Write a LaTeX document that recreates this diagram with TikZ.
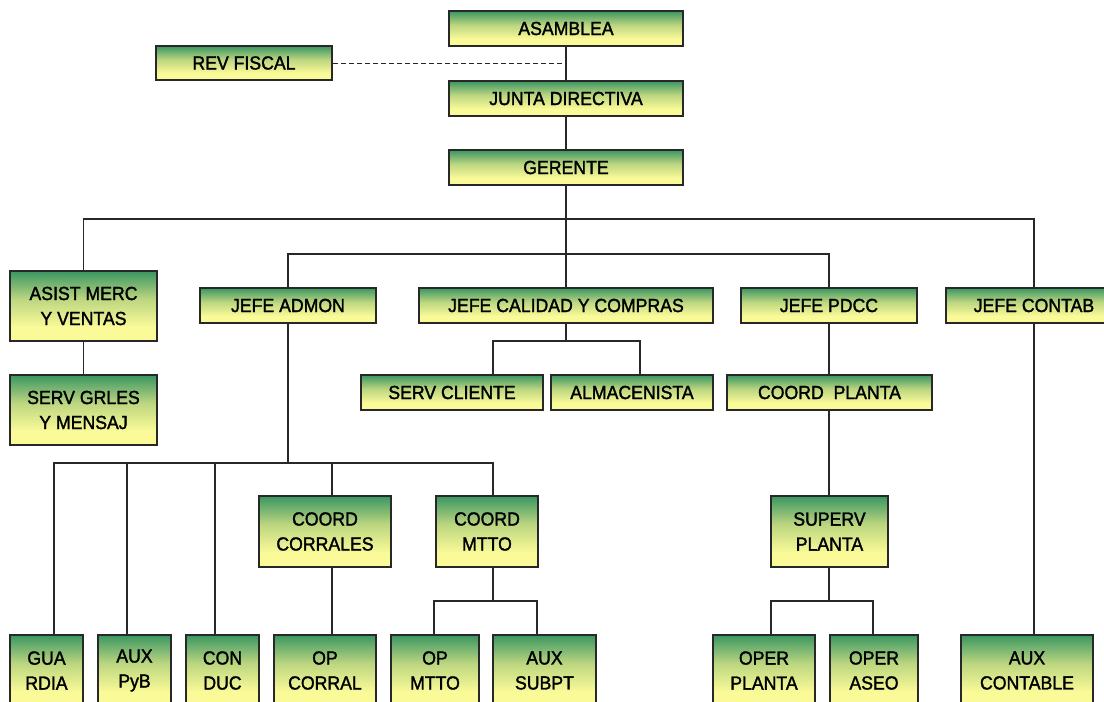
\documentclass[tikz,border=0pt]{standalone}
\usepackage{fontspec}
\setmainfont{Liberation Sans}
\newfontfamily\boxfont[FakeBold=1.6, FakeStretch=0.93]{Liberation Sans}
\definecolor{gt}{RGB}{58,150,98}
\definecolor{gm}{RGB}{188,214,128}
\definecolor{yb}{RGB}{250,250,152}
\definecolor{edge}{RGB}{40,40,40}
\pgfdeclareverticalshading{boxshade}{100bp}{color(0bp)=(yb); color(35bp)=(yb); color(55bp)=(gm); color(75bp)=(gt); color(100bp)=(gt)}
\begin{document}
\begin{tikzpicture}[x=1pt,y=-1pt,
  box/.style={draw=edge, line width=1.3pt, shade, shading=boxshade, inner sep=0pt,
    align=center, font=\boxfont\fontsize{19}{25}\selectfont, text=black},
  wh/.style 2 args={minimum width=#1pt, minimum height=#2pt},
  conn/.style={line width=1.2pt, draw=edge},
  dashconn/.style={line width=1pt, draw=edge, dash pattern=on 5pt off 3pt}]
\useasboundingbox (0,0) rectangle (1104,702);
% top
\node[box, wh={234}{35}] (asam) at (566,28.5) {ASAMBLEA};
\node[box, wh={176}{34}] (rev) at (244,63) {REV FISCAL};
\node[box, wh={234}{35}] (junta) at (566,98.5) {JUNTA DIRECTIVA};
\node[box, wh={234}{35}] (ger) at (566,167.5) {GERENTE};
% level 2
\node[box, wh={147}{70}] (asist) at (83.5,306) {ASIST MERC\\Y VENTAS};
\node[box, wh={147}{70}] (servg) at (83.5,410) {SERV GRLES\\Y MENSAJ};
\node[box, wh={176}{35}] (admon) at (288,305.5) {JEFE ADMON};
\node[box, wh={294}{35}] (cal) at (566,305.5) {JEFE CALIDAD Y COMPRAS};
\node[box, wh={176}{35}] (pdcc) at (829,305.5) {JEFE PDCC};
\node[box, wh={176}{35}] (contab) at (1034,305.5) {JEFE CONTAB};
% level 3
\node[box, wh={182}{35}] (servc) at (452,392.5) {SERV CLIENTE};
\node[box, wh={162}{35}] (alma) at (632,392.5) {ALMACENISTA};
\node[box, wh={205}{35}] (coordp) at (829.5,392.5) {COORD\ \ PLANTA};
% level 4
\node[box, wh={132}{71}] (coordc) at (325,531.5) {COORD\\CORRALES};
\node[box, wh={102}{71}] (coordm) at (487,531.5) {COORD\\MTTO};
\node[box, wh={117}{71}] (superv) at (829.5,531.5) {SUPERV\\PLANTA};
% bottom row
\node[box, wh={73}{71}] (gua) at (46.5,670.5) {GUA\\RDIA};
\node[box, wh={73}{71}] (auxp) at (134.5,670.5) {AUX\\PyB};
\node[box, wh={73}{71}] (con) at (222.5,670.5) {CON\\DUC};
\node[box, wh={102}{71}] (opc) at (325,670.5) {OP\\CORRAL};
\node[box, wh={88}{71}] (opm) at (435,670.5) {OP\\MTTO};
\node[box, wh={103}{71}] (auxs) at (544.5,670.5) {AUX\\SUBPT};
\node[box, wh={102}{71}] (operp) at (764,670.5) {OPER\\PLANTA};
\node[box, wh={88}{71}] (opera) at (874,670.5) {OPER\\ASEO};
\node[box, wh={132}{71}] (auxc) at (1027,670.5) {AUX\\CONTABLE};
% helper x positions of off-centre drops
\coordinate (xsc) at (493,0);
\coordinate (xal) at (640,0);
\coordinate (xg) at (54,0);
\coordinate (xa) at (127,0);
\coordinate (xc) at (215,0);
\coordinate (xcc) at (332,0);
\coordinate (xcm) at (493,0);
\coordinate (xom) at (434,0);
\coordinate (xas) at (537,0);
\coordinate (xop) at (771,0);
\coordinate (xoa) at (873,0);
% bus points
\coordinate (b1) at (566,219);
\coordinate (b2) at (566,254);
\coordinate (b3) at (566,341);
\coordinate (b4) at (829,601);
\coordinate (b5) at (288,463);
\coordinate (b6) at (493,601);
% connectors
\draw[conn] (asam) -- (junta);
\draw[dashconn] (rev.east) -- (rev.east -| asam.south);
\draw[conn] (junta) -- (ger);
\draw[conn] (ger.south) -- (b1);
\draw[conn] (asist.north) |- (b1) -| (contab.north);
\draw[conn] (b1) -- (cal.north);
\draw[conn] (admon.north) |- (b2) -| (pdcc.north);
\draw[conn] (asist) -- (servg);
\draw[conn] (cal.south) -- (b3);
\draw[conn] (xsc |- servc.north) |- (b3) -| (xal |- alma.north);
\draw[conn] (pdcc.south) -- (pdcc.south |- coordp.north);
\draw[conn] (coordp.south -| pdcc.south) -- (pdcc.south |- superv.north);
\draw[conn] (superv.south -| b4) -- (b4);
\draw[conn] (xop |- operp.north) |- (b4) -| (xoa |- opera.north);
\draw[conn] (admon.south) -- (b5);
\draw[conn] (xg |- gua.north) |- (b5) -| (xcm |- coordm.north);
\draw[conn] (xa |- auxp.north) -- (xa |- b5);
\draw[conn] (xc |- con.north) -- (xc |- b5);
\draw[conn] (xcc |- coordc.north) -- (xcc |- b5);
\draw[conn] (xcc |- coordc.south) -- (xcc |- opc.north);
\draw[conn] (xcm |- coordm.south) -- (b6);
\draw[conn] (xom |- opm.north) |- (b6) -| (xas |- auxs.north);
\draw[conn] (contab.south) -- (contab.south |- auxc.north);
\end{tikzpicture}
\end{document}
